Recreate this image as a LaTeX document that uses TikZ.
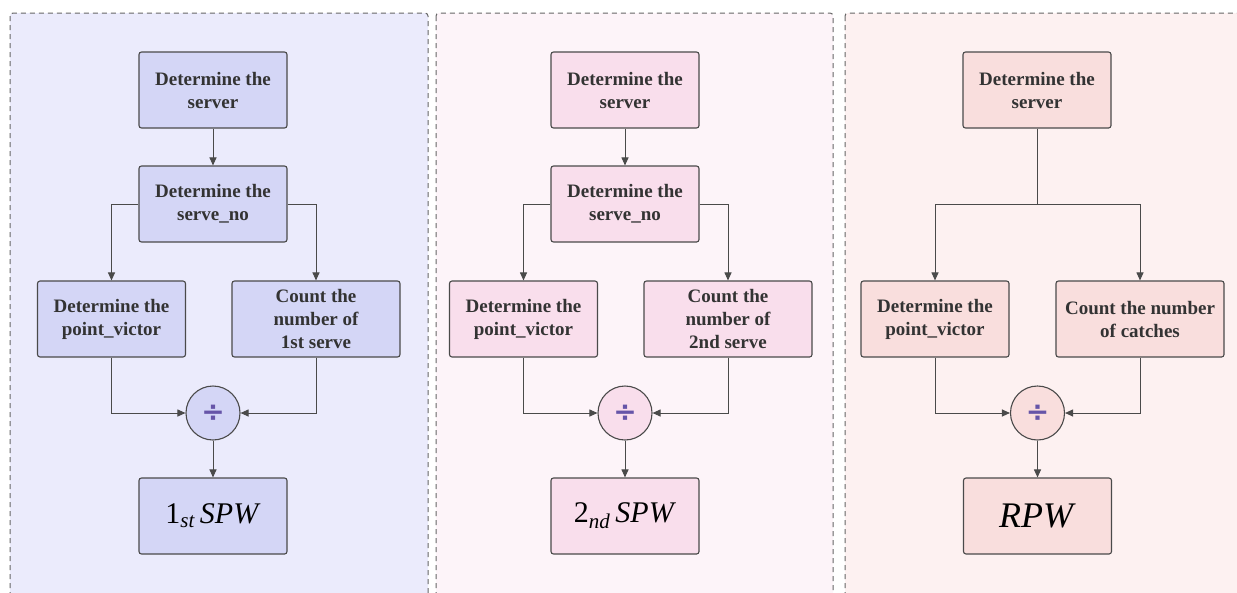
\documentclass[tikz,border=0pt]{standalone}
\usepackage{fontspec}
\setmainfont{LiberationSerif}[Extension=.ttf, UprightFont=*-Regular, BoldFont=*-Bold,
  ItalicFont=*-Italic, BoldItalicFont=*-BoldItalic]
\newfontfamily\symfont{DejaVu Sans}
\usetikzlibrary{positioning,arrows.meta}

\definecolor{panelA}{HTML}{EBEBFC}
\definecolor{fillA}{HTML}{D4D6F6}
\definecolor{panelB}{HTML}{FDF4F9}
\definecolor{fillB}{HTML}{F9DEEC}
\definecolor{panelC}{HTML}{FDF1F1}
\definecolor{fillC}{HTML}{F9DEDD}
\definecolor{framegray}{HTML}{666666}
\definecolor{linegray}{HTML}{4A4A4A}
\definecolor{textgray}{HTML}{333333}
\definecolor{divpurple}{HTML}{6655A8}

\tikzset{
  panel/.style={draw=framegray, dash pattern=on 5pt off 4pt, line width=1pt, rounded corners=3pt},
  box/.style={draw=linegray, line width=1.1pt, rounded corners=2.5pt, minimum width=148pt,
    minimum height=76pt, align=center, inner sep=2pt, text=textgray,
    font=\fontsize{19}{23}\selectfont\bfseries},
  widebox/.style={box, minimum width=168pt},
  divnode/.style={circle, draw=linegray, line width=1.1pt, minimum size=54pt, inner sep=0pt,
    text=divpurple, font=\symfont\fontsize{28}{28}\selectfont\bfseries},
  result/.style={box, text=black, font=\fontsize{30}{36}\selectfont},
  plain/.style={draw=linegray, line width=1pt},
  link/.style={plain, -{Triangle[length=8pt,width=7pt]}}
}

\begin{document}
\begin{tikzpicture}[x=1pt,y=-1pt]
\useasboundingbox (0,0) rectangle (1237,592);
% Background panels
\fill[white] (0,0) rectangle (1237,592);
\filldraw[panel, fill=panelA] (10,13) rectangle (428,610);
\filldraw[panel, fill=panelB] (436,13) rectangle (833,610);
\filldraw[panel, fill=panelC] (845,13) rectangle (1260,610);

% First serve panel
\node[box, fill=fillA] (srvA) at (213,90) {Determine the\\server};
\node[box, fill=fillA] (srvnoA) at (213,204) {Determine the\\serve\_no};
\node[box, fill=fillA] (victorA) at (111.5,319) {Determine the\\point\_victor};
\node[widebox, fill=fillA] (countA) at (316,319) {Count the\\number of\\1st serve};
\node[divnode, fill=fillA] (divA) at (213,413) {÷};
\node[result, fill=fillA] (spwA) at (213,516) {1\textsubscript{\itshape st}\,\textit{SPW}};
\draw[link] (srvA) -- (srvnoA);
\draw[link] (srvnoA.west) -| (victorA.north);
\draw[link] (srvnoA.east) -| (countA.north);
\draw[link] (victorA.south) |- (divA.west);
\draw[link] (countA.south) |- (divA.east);
\draw[link] (divA) -- (spwA);

% Second serve panel
\node[box, fill=fillB] (srvB) at (625,90) {Determine the\\server};
\node[box, fill=fillB] (srvnoB) at (625,204) {Determine the\\serve\_no};
\node[box, fill=fillB] (victorB) at (523.5,319) {Determine the\\point\_victor};
\node[widebox, fill=fillB] (countB) at (728,319) {Count the\\number of\\2nd serve};
\node[divnode, fill=fillB] (divB) at (625,413) {÷};
\node[result, fill=fillB] (spwB) at (625,516) {2\textsubscript{\itshape nd}\,\textit{SPW}};
\draw[link] (srvB) -- (srvnoB);
\draw[link] (srvnoB.west) -| (victorB.north);
\draw[link] (srvnoB.east) -| (countB.north);
\draw[link] (victorB.south) |- (divB.west);
\draw[link] (countB.south) |- (divB.east);
\draw[link] (divB) -- (spwB);

% Return panel
\node[box, fill=fillC] (srvC) at (1037,90) {Determine the\\server};
\coordinate (splitC) at (1037,204);
\node[box, fill=fillC] (victorC) at (935,319) {Determine the\\point\_victor};
\node[widebox, fill=fillC] (countC) at (1140,319) {Count the number\\of catches};
\node[divnode, fill=fillC] (divC) at (1037.5,413) {÷};
\node[result, fill=fillC, font=\fontsize{36}{40}\selectfont] (rpwC) at (1037.5,516) {\textit{RPW}};
\draw[plain] (srvC) -- (splitC);
\draw[link] (splitC) -| (victorC.north);
\draw[link] (splitC) -| (countC.north);
\draw[link] (victorC.south) |- (divC.west);
\draw[link] (countC.south) |- (divC.east);
\draw[link] (divC) -- (rpwC);
\end{tikzpicture}
\end{document}
